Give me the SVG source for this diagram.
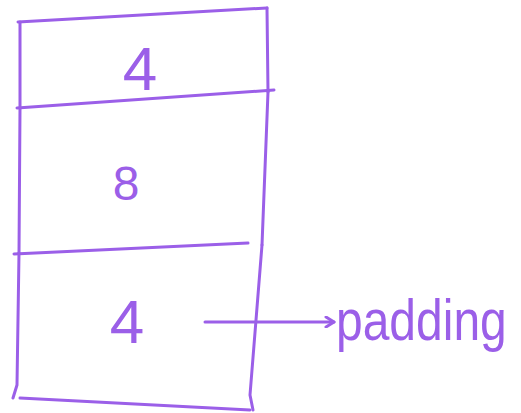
<svg xmlns="http://www.w3.org/2000/svg" width="521" height="413" viewBox="0 0 521 413">
<defs>
<style>
.ln{fill:none;stroke:#9b5fe8;stroke-width:3;stroke-linecap:round;stroke-linejoin:round}
.t{font-family:"Liberation Sans",Arial,sans-serif;fill:#9b5fe8;text-anchor:middle}
</style>
<marker id="ah" markerWidth="12" markerHeight="12" refX="10" refY="6" orient="auto" markerUnits="userSpaceOnUse">
<path d="M2,1 L10,6 L2,11" class="ln" stroke-width="2"/>
</marker>
</defs>
<rect width="521" height="413" fill="#ffffff"/>
<g id="cell-top">
<path class="ln" d="M18,22 L267,8"/>
<path class="ln" d="M20,22 L20,108"/>
<path class="ln" d="M267,8 L268,92"/>
<path class="ln" d="M17,108 L274,90"/>
<text class="t" x="140" y="90" font-size="62">4</text>
</g>
<g id="cell-middle">
<path class="ln" d="M20,108 L19,253"/>
<path class="ln" d="M268,92 L262,245"/>
<path class="ln" d="M14,254 L248,243"/>
<text class="t" x="126" y="200" font-size="48">8</text>
</g>
<g id="cell-bottom">
<path class="ln" d="M19,253 L17,385 L13,398"/>
<path class="ln" d="M262,245 L250,395 L253,410"/>
<path class="ln" d="M20,398 L250,410"/>
<text class="t" x="127" y="343" font-size="62">4</text>
</g>
<g id="connectors">
<path class="ln" d="M205,322 L334,322" marker-end="url(#ah)"/>
</g>
<g id="label-padding">
<text x="0" y="0" transform="translate(336,340) scale(1,1.2)" font-family="Liberation Sans,Arial,sans-serif" font-size="48" fill="#9b5fe8">padding</text>
</g>
</svg>
